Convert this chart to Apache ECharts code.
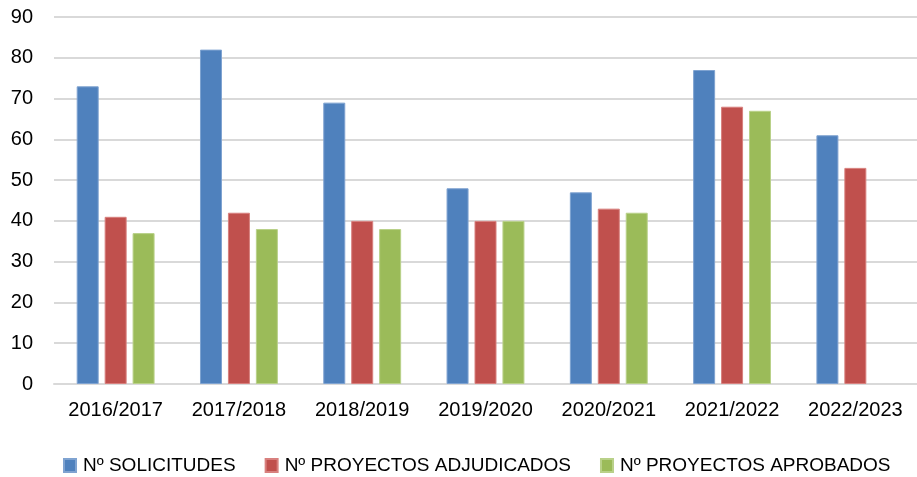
<!DOCTYPE html>
<html>
<head>
<meta charset="utf-8">
<script src="https://cdn.jsdelivr.net/npm/echarts@6/dist/echarts.min.js"></script>
<style>
  html, body { margin: 0; padding: 0; background: #fff; }
  #chart { width: 917px; height: 477px; }
</style>
</head>
<body>
<div id="chart"></div>
<script>
// datos
var cursos = ['2016/2017', '2017/2018', '2018/2019', '2019/2020', '2020/2021', '2021/2022', '2022/2023'];
var solicitudes = [73, 82, 69, 48, 47, 77, 61];
var adjudicados = [41, 42, 40, 40, 43, 68, 53];
var aprobados = [37, 38, 38, 40, 42, 67, null];
var yTicks = [0, 10, 20, 30, 40, 50, 60, 70, 80, 90];

var fuente = '"Liberation Sans", Arial, sans-serif';

function serie(nombre, datos, color, borde) {
  return {
    name: nombre,
    type: 'bar',
    data: datos,
    barWidth: 22,
    barGap: '27%',
    itemStyle: { color: color, borderColor: borde, borderWidth: 1 }
  };
}

var chart = echarts.init(document.getElementById('chart'));
chart.setOption({
  animation: false,
  textStyle: { fontFamily: fuente },
  grid: { left: 54, right: -7, top: 17, bottom: 93 },
  legend: {
    top: 451,
    left: 58,
    itemWidth: 12,
    itemHeight: 13,
    itemGap: 29,
    icon: 'rect',
    textStyle: { fontSize: 19, color: '#000', fontFamily: fuente, padding: [0, 0, 0, 2] },
    data: ['Nº SOLICITUDES', 'Nº PROYECTOS ADJUDICADOS', 'Nº PROYECTOS APROBADOS']
  },
  xAxis: {
    type: 'category',
    data: cursos,
    axisTick: { show: false },
    axisLine: { lineStyle: { color: '#d9d9d9', width: 2 } },
    axisLabel: { color: '#000', fontSize: 20, margin: 16, interval: 0 }
  },
  yAxis: {
    type: 'value',
    min: yTicks[0],
    max: yTicks[yTicks.length - 1],
    interval: 10,
    axisLine: { show: false },
    axisTick: { show: false },
    axisLabel: { color: '#000', fontSize: 20, margin: 21 },
    splitLine: { lineStyle: { color: '#d9d9d9', width: 2 } }
  },
  series: [
    serie('Nº SOLICITUDES', solicitudes, '#4f81bd', '#7fa3d1'),
    serie('Nº PROYECTOS ADJUDICADOS', adjudicados, '#c0504d', '#d8807e'),
    serie('Nº PROYECTOS APROBADOS', aprobados, '#9bbb59', '#b9d189')
  ]
});
</script>
</body>
</html>
